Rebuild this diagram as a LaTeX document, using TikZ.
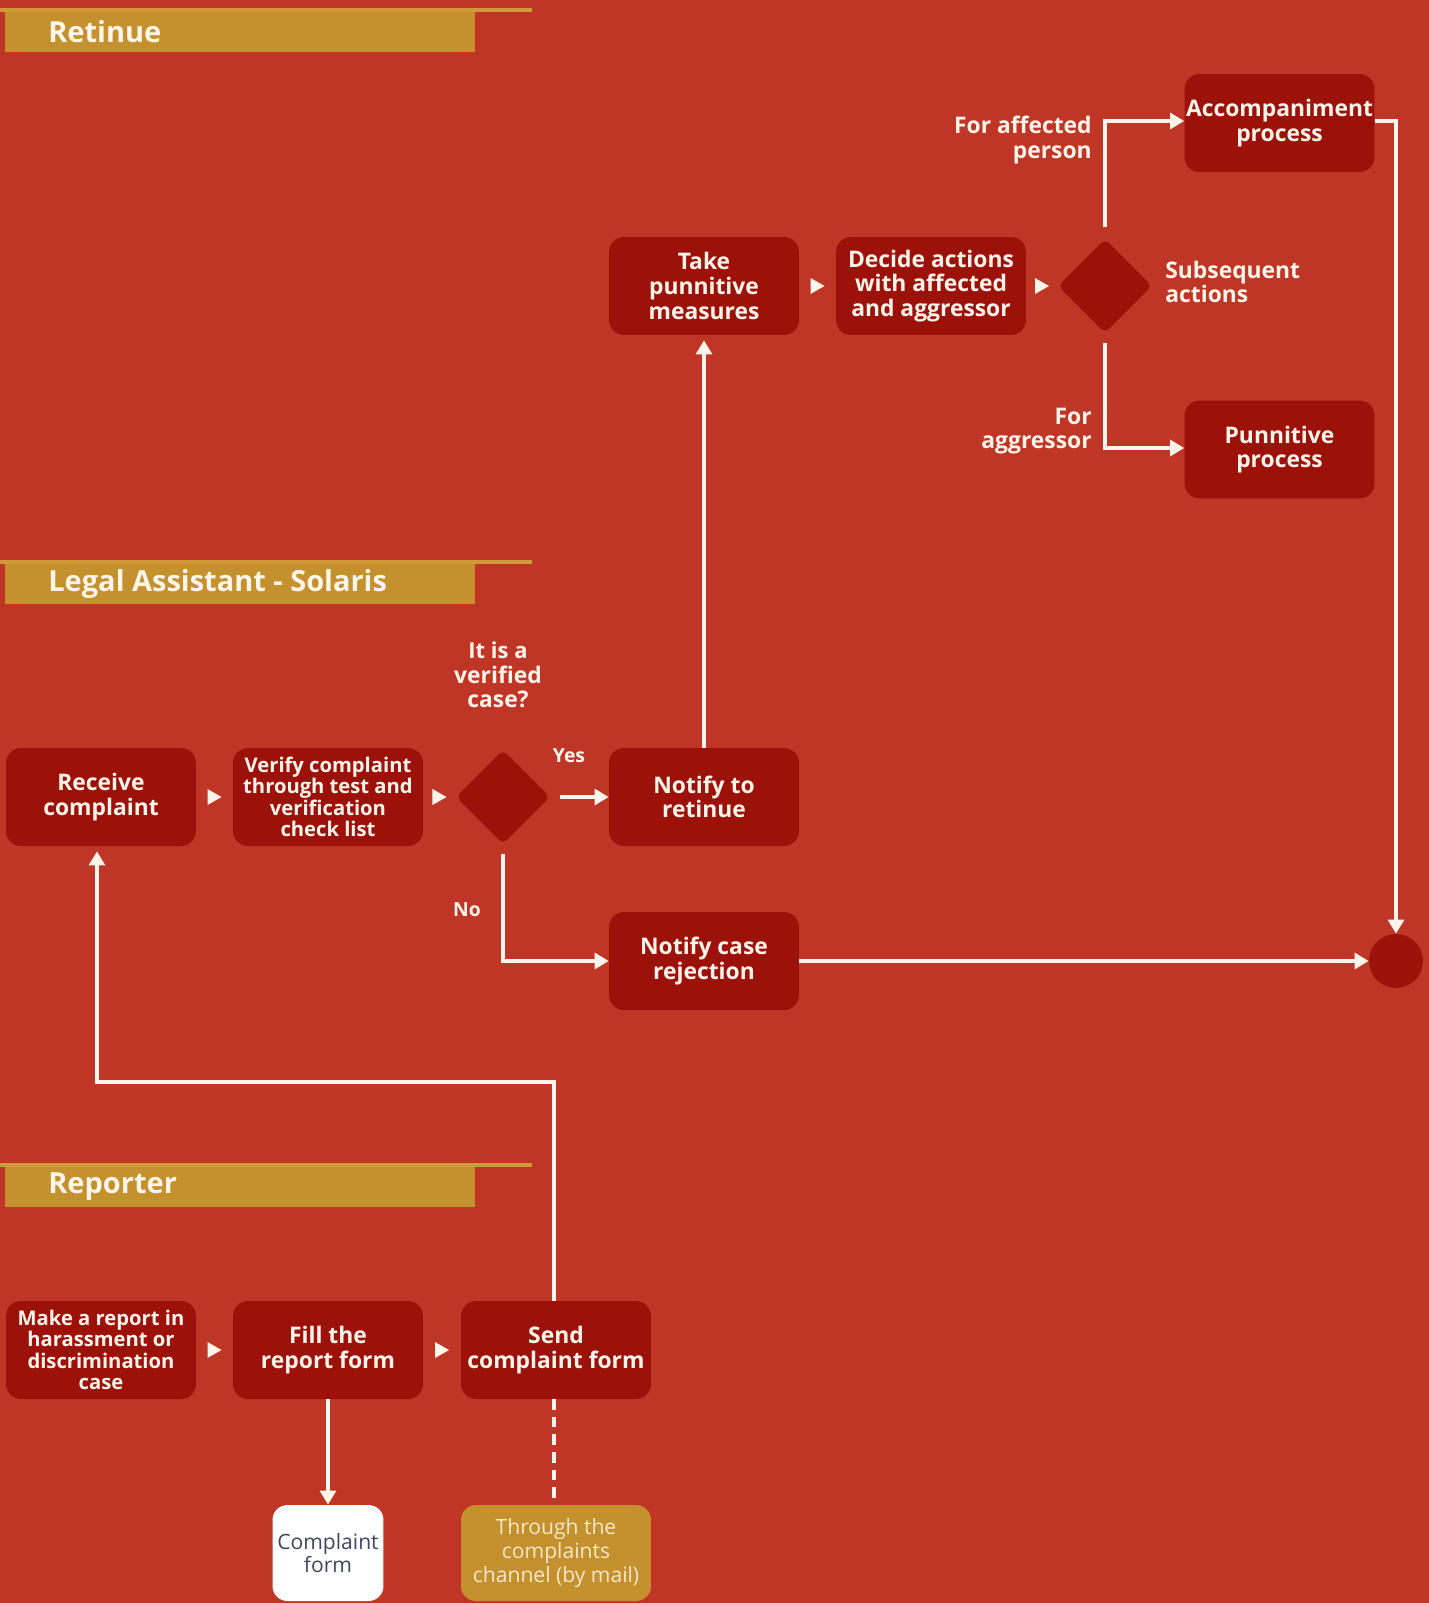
\documentclass[tikz,border=0pt]{standalone}
\usepackage{fontspec}
\setmainfont{Open Sans}
\usetikzlibrary{shapes.geometric,arrows.meta,calc}
\definecolor{bg}{HTML}{BF3627}
\definecolor{boxc}{HTML}{9C110A}
\definecolor{gold}{HTML}{C4912E}
\definecolor{goldline}{HTML}{D09A3A}
\definecolor{cream}{HTML}{FFF5EA}
\definecolor{ink}{HTML}{404660}
\definecolor{paletxt}{HTML}{F6E7CB}
\newcommand\stepTri[2]{\fill[cream] ($(#1.east)!0.5!(#2.west)$) +(-7,-8) -- +(7,0) -- +(-7,8) -- cycle;}
\newcommand\laneHead[3]{%
  \draw[goldline,line width=1.8pt] (0,#1) -- (532,#1);
  \fill[gold] (5,#1+2) rectangle (475,#1+42);
  \node[lanetext,anchor=west] (#2) at (48,#1+22) {#3};}
\begin{document}
\begin{tikzpicture}[x=0.02cm,y=-0.02cm,
  box/.style={fill=boxc,rounded corners=0.3cm,minimum width=3.8cm,minimum height=1.96cm,
    align=center,text=cream,font=\fontsize{13}{14}\selectfont\bfseries,inner sep=0pt},
  smalltxt/.style={font=\fontsize{11.5}{12.2}\selectfont\bfseries},
  dec/.style={diamond,fill=boxc,minimum width=1.88cm,minimum height=1.88cm,inner sep=0pt,rounded corners=3pt},
  lanetext/.style={text=cream,font=\fontsize{16.5}{18}\selectfont\bfseries,inner sep=0pt},
  lbl/.style={text=cream,font=\fontsize{13}{14}\selectfont\bfseries,inner sep=0pt},
  tinylbl/.style={text=cream,font=\fontsize{11}{12}\selectfont\bfseries,inner sep=0pt},
  arr/.style={draw=cream,line width=2.2pt,-{Triangle[length=8pt,width=9pt]}},
  ln/.style={draw=cream,line width=2.2pt},
  dashln/.style={draw=cream,line width=2.2pt,dash pattern=on 6pt off 4pt},
]
\fill[bg] (0,0) rectangle (1429,1603);
\useasboundingbox (0,0) rectangle (1429,1603);

% lane headers
\laneHead{10}{hret}{Retinue}
\laneHead{562}{hleg}{Legal Assistant - Solaris}
\laneHead{1165}{hrep}{Reporter}

% Retinue lane
\node[box] (take) at (704,286) {Take\\punnitive\\measures};
\node[box] (decide) at (931,286) {Decide actions\\with affected\\and aggressor};
\node[dec] (d2) at (1105,286) {};
\node[box] (acc) at (1279.5,123) {Accompaniment\\process};
\node[box] (pun) at (1279.5,449.5) {Punnitive\\process};

% Legal lane
\node[box] (receive) at (101,797) {Receive\\complaint};
\node[box,smalltxt] (verify) at (328,797) {Verify complaint\\through test and\\verification\\check list};
\node[dec] (d1) at (503,797) {};
\node[box] (nret) at (704,797) {Notify to\\retinue};
\node[box] (nrej) at (704,961) {Notify case\\rejection};
\node[circle,fill=boxc,minimum size=1.08cm,inner sep=0pt] (end) at (1396,961) {};

% Reporter lane
\node[box,smalltxt] (make) at (101,1350) {Make a report in\\harassment or\\discrimination\\case};
\node[box] (fill) at (328,1350) {Fill the\\report form};
\node[box] (send) at (556,1350) {Send\\complaint form};
\node[box,fill=white,text=ink,minimum width=2.22cm,minimum height=1.92cm,
  font=\fontsize{12}{13.4}\selectfont] (cform) at (328,1553) {Complaint\\form};
\node[box,fill=gold,text=paletxt,minimum height=1.92cm,
  font=\fontsize{12}{13.4}\selectfont] (through) at (556,1553) {Through the\\complaints\\channel (by mail)};

% labels
\node[lbl,align=center] (qlbl) at (498,675) {\fontsize{12.5}{12}\selectfont It is a\\verified\\case?};
\node[tinylbl] (yes) at (569,756) {Yes};
\node[tinylbl] (no) at (467,910) {No};
\node[lbl,align=right,anchor=east] (faff) at (1092,140) {For affected\\person};
\node[lbl,align=right,anchor=east] (fagg) at (1092,431) {For\\aggressor};
\node[lbl,align=left,anchor=west] (subs) at (1165,282) {Subsequent\\actions};

% step triangles
\stepTri{receive}{verify}
\stepTri{verify}{d1}
\stepTri{take}{decide}
\stepTri{decide}{d2}
\stepTri{make}{fill}
\stepTri{fill}{send}

% connectors
\draw[arr] ($(d1.east)+(10,0)$) -- (nret.west);
\draw[arr] ($(d1.south)+(0,10)$) |- (nrej.west);
\draw[arr] (nret.north) -- ($(take.south)+(0,5)$);
\draw[arr] ($(d2.north)+(0,-12)$) |- ($(acc.west)+(0,-2)$);
\draw[arr] ($(d2.south)+(0,10)$) |- ($(pun.west)+(0,-1.5)$);
\draw[arr] ($(acc.east)+(0,-2)$) -| (end.north);
\draw[ln] ($(pun.east)+(0,-1.5)$) -- ($(pun.east)+(0,-1.5)$ -| end.north);
\draw[arr] (nrej.east) -- (end.west);
\coordinate (turn) at (554,1082);
\draw[arr] ($(send.north)+(-2,0)$) -- (turn) -| ($(receive.south)+(-4,5)$);
\draw[arr] (fill.south) -- (cform.north);
\draw[dashln] ($(send.south)+(-2,0)$) -- ($(through.north)+(-2,0)$);
\end{tikzpicture}
\end{document}
